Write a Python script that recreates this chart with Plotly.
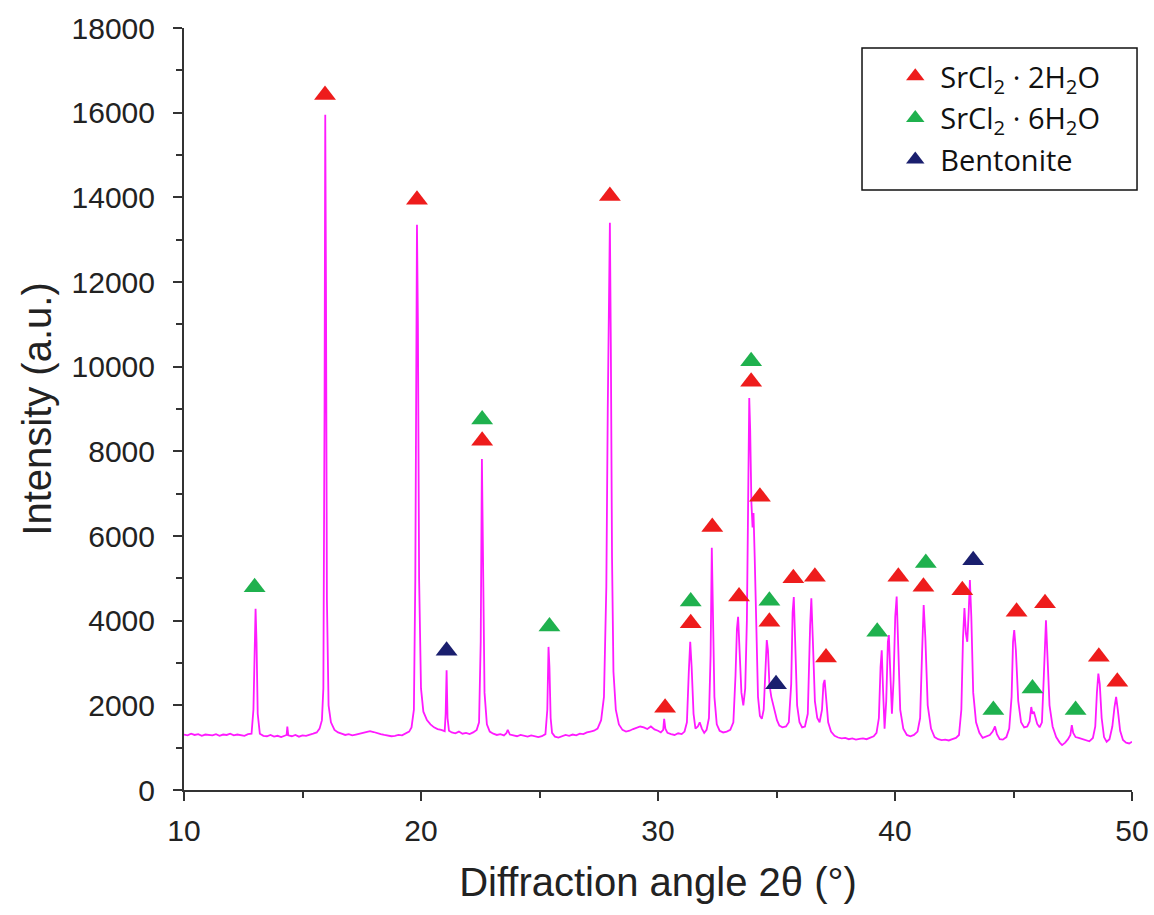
import plotly.graph_objects as go

# XRD pattern, in segments (2θ in degrees, intensity in a.u.)
angle_a = [10.00, 10.15, 10.30, 10.45, 10.60, 10.75, 10.90, 11.05, 11.20, 11.35,
           11.50, 11.65, 11.80, 11.95, 12.10, 12.25, 12.40, 12.55, 12.70, 12.85,
           12.93, 12.98, 13.02, 13.06, 13.11, 13.20, 13.35, 13.50, 13.65, 13.80,
           13.95, 14.10, 14.25, 14.33, 14.36, 14.40, 14.55, 14.70, 14.85, 15.00,
           15.15, 15.30, 15.45, 15.60, 15.72, 15.82, 15.88, 15.93, 15.96, 15.99,
           16.03, 16.10, 16.20, 16.35, 16.50]
intensity_a = [1310, 1290, 1330, 1300, 1320, 1280, 1310, 1300, 1290, 1320,
               1280, 1310, 1300, 1330, 1290, 1310, 1300, 1280, 1320, 1330,
               1900, 3600, 4280, 3500, 1800, 1330, 1280, 1270, 1300, 1260,
               1280, 1250, 1290, 1300, 1500, 1290, 1270, 1300, 1260, 1290,
               1280, 1300, 1330, 1360, 1450, 1650, 2400, 9000, 15950, 12000,
               4500, 2000, 1600, 1420, 1360]

angle_b = [16.65, 16.80, 16.95, 17.10, 17.25, 17.40, 17.55, 17.70, 17.85, 18.00,
           18.15, 18.30, 18.45, 18.60, 18.75, 18.90, 19.05, 19.20, 19.35, 19.50,
           19.60, 19.70, 19.76, 19.80, 19.83, 19.87, 19.92, 20.00, 20.10, 20.25,
           20.40, 20.55, 20.70, 20.85, 21.00, 21.04, 21.08, 21.12, 21.18, 21.30,
           21.45, 21.60, 21.75, 21.90, 22.05, 22.20, 22.35, 22.45, 22.52, 22.57,
           22.62, 22.68, 22.78, 22.90]
intensity_b = [1330, 1300, 1320, 1290, 1310, 1330, 1360, 1380, 1390, 1370,
               1340, 1320, 1300, 1290, 1270, 1280, 1300, 1290, 1330, 1380,
               1480, 1900, 5000, 10500, 13350, 11000, 5000, 2400, 1850, 1650,
               1550, 1480, 1440, 1420, 1390, 1800, 2830, 1700, 1400, 1360,
               1340, 1380, 1330, 1350, 1320, 1360, 1420, 1600, 3500, 7820,
               5200, 2300, 1550, 1380]

angle_c = [23.05, 23.20, 23.35, 23.50, 23.60, 23.66, 23.75, 23.90, 24.05, 24.20,
           24.35, 24.50, 24.65, 24.80, 24.95, 25.10, 25.25, 25.33, 25.38, 25.42,
           25.47, 25.53, 25.65, 25.80, 25.95, 26.10, 26.25, 26.40, 26.55, 26.70,
           26.85, 27.00, 27.15, 27.30, 27.45, 27.60, 27.72, 27.82, 27.88, 27.93,
           27.97, 28.01, 28.06, 28.12, 28.22, 28.35, 28.50, 28.65, 28.80, 28.95,
           29.10, 29.25, 29.40, 29.55, 29.70, 29.85]
intensity_c = [1330, 1300, 1320, 1290, 1340, 1420, 1310, 1290, 1270, 1300,
               1280, 1260, 1290, 1270, 1250, 1270, 1320, 1900, 3380, 2900,
               1700, 1350, 1260, 1240, 1270, 1300, 1280, 1310, 1290, 1330,
               1320, 1360, 1380, 1400, 1450, 1650, 2200, 4800, 9000, 12000,
               13400, 10500, 5500, 2800, 1900, 1550, 1420, 1380, 1400, 1440,
               1470, 1500, 1480, 1440, 1500, 1430]

angle_d = [30.00, 30.12, 30.22, 30.26, 30.31, 30.40, 30.55, 30.70, 30.85, 31.00,
           31.12, 31.22, 31.30, 31.36, 31.42, 31.50, 31.58, 31.68, 31.76, 31.85,
           31.95, 32.05, 32.15, 32.22, 32.27, 32.32, 32.38, 32.48, 32.60, 32.75,
           32.90, 33.05, 33.18, 33.27, 33.33, 33.38, 33.44, 33.52, 33.60, 33.68,
           33.75, 33.80, 33.85, 33.89, 33.94, 33.99, 34.03, 34.08, 34.15, 34.22]
intensity_d = [1400, 1360, 1420, 1680, 1450, 1350, 1320, 1300, 1340, 1320,
               1380, 1600, 2800, 3500, 2900, 1800, 1450, 1500, 1600, 1450,
               1350, 1420, 1700, 3200, 5720, 4300, 2200, 1550, 1400, 1360,
               1380, 1420, 1600, 2700, 3800, 4090, 3300, 2300, 2000, 2400,
               4000, 6500, 9260, 8500, 6800, 6200, 6540, 5500, 3500, 2200]

angle_e = [34.30, 34.38, 34.46, 34.53, 34.59, 34.64, 34.70, 34.78, 34.86, 34.94,
           35.02, 35.12, 35.25, 35.40, 35.52, 35.62, 35.68, 35.73, 35.79, 35.87,
           35.97, 36.08, 36.20, 36.32, 36.42, 36.47, 36.53, 36.62, 36.72, 36.82,
           36.92, 36.98, 37.03, 37.09, 37.18, 37.30, 37.45, 37.60, 37.75, 37.90,
           38.05, 38.20, 38.35, 38.50, 38.65, 38.80, 38.95, 39.10, 39.22]
intensity_e = [1750, 1680, 1900, 2900, 3540, 3300, 2500, 2200, 2000, 1850,
               1650, 1520, 1480, 1500, 1600, 2500, 4200, 4560, 3600, 2000,
               1600, 1480, 1500, 1800, 3900, 4530, 3600, 2100, 1700, 1600,
               1900, 2500, 2600, 2100, 1600, 1380, 1280, 1240, 1220, 1230,
               1200, 1220, 1190, 1210, 1220, 1200, 1240, 1270, 1350]

angle_f = [39.32, 39.39, 39.44, 39.50, 39.56, 39.63, 39.70, 39.74, 39.80, 39.87,
           39.94, 40.01, 40.07, 40.13, 40.22, 40.35, 40.50, 40.65, 40.80, 40.95,
           41.06, 41.14, 41.21, 41.28, 41.38, 41.52, 41.67, 41.82, 41.97, 42.12,
           42.27, 42.42, 42.57, 42.70, 42.80, 42.87, 42.93, 42.99, 43.05, 43.11,
           43.16, 43.22, 43.30, 43.42, 43.56, 43.70, 43.85, 44.00]
intensity_f = [1700, 2900, 3300, 2300, 1450, 2100, 3500, 3660, 2900, 1800,
               2600, 4100, 4570, 3600, 1900, 1450, 1300, 1270, 1300, 1380,
               1700, 3200, 4370, 3600, 2000, 1450, 1250, 1200, 1180, 1190,
               1170, 1200, 1230, 1300, 1900, 3600, 4300, 3700, 3500, 4200,
               4960, 4100, 2300, 1600, 1350, 1230, 1270, 1300]

angle_g = [44.12, 44.22, 44.30, 44.42, 44.55, 44.70, 44.82, 44.92, 44.98, 45.03,
           45.10, 45.20, 45.32, 45.45, 45.58, 45.68, 45.75, 45.80, 45.86, 45.92,
           46.00, 46.10, 46.20, 46.28, 46.33, 46.37, 46.43, 46.52, 46.65, 46.80,
           46.95, 47.05, 47.18, 47.30, 47.40, 47.46, 47.52, 47.62, 47.75, 47.90,
           48.05, 48.20, 48.35, 48.45, 48.52, 48.58, 48.64, 48.72, 48.82, 48.93,
           49.05, 49.17, 49.26, 49.33, 49.40, 49.50, 49.62, 49.75, 49.88, 50.00]
intensity_g = [1380, 1500, 1320, 1200, 1190, 1250, 1450, 2200, 3500, 3780,
               3300, 2100, 1600, 1480, 1500, 1620, 1960, 1800, 1850, 1700,
               1560, 1480, 1600, 2700, 3600, 4010, 3200, 2000, 1500, 1250,
               1120, 1060, 1120, 1200, 1300, 1530, 1350, 1250, 1230, 1200,
               1170, 1150, 1230, 1500, 2300, 2750, 2500, 1700, 1250, 1140,
               1200, 1500, 1950, 2200, 1900, 1400, 1180, 1120, 1100, 1140]

# Phase markers (2θ, marker height)
dihydrate_x = [15.95, 19.83, 22.58, 27.97, 30.30, 31.38, 32.29, 33.42, 33.93, 34.30,
               34.70, 35.71, 36.62, 37.09, 40.14, 41.20, 42.84, 45.13, 46.33, 48.60, 49.38]
dihydrate_y = [16420, 13940, 8250, 14030, 1940, 3940, 6210, 4570, 9645, 6930,
               3975, 5000, 5040, 3130, 5040, 4800, 4720, 4210, 4410, 3150, 2560]
hexahydrate_x = [12.98, 22.58, 25.42, 31.38, 33.93, 34.70, 39.25, 41.30, 44.15, 45.80, 47.62]
hexahydrate_y = [4790, 8750, 3860, 4450, 10130, 4470, 3740, 5360, 1890, 2400, 1890]
bentonite_x = [21.08, 34.98, 43.30]
bentonite_y = [3290, 2500, 5430]

series_names = ["SrCl<sub>2</sub> · 2H<sub>2</sub>O", "SrCl<sub>2</sub> · 6H<sub>2</sub>O", "Bentonite"]
x_ticks = [10, 20, 30, 40, 50]
y_ticks = [0, 2000, 4000, 6000, 8000, 10000, 12000, 14000, 16000, 18000]

angle = angle_a + angle_b + angle_c + angle_d + angle_e + angle_f + angle_g
intensity = (intensity_a + intensity_b + intensity_c + intensity_d
             + intensity_e + intensity_f + intensity_g)

fig = go.Figure()
fig.add_trace(go.Scatter(x=angle, y=intensity, mode="lines",
                         line=dict(color="#ff1aff", width=1.8),
                         showlegend=False))

marker_colors = ["#ee1c1c", "#1fb14e", "#1a1f6e"]
for name, xs, ys, col in zip(series_names,
                             [dihydrate_x, hexahydrate_x, bentonite_x],
                             [dihydrate_y, hexahydrate_y, bentonite_y],
                             marker_colors):
    fig.add_trace(go.Scatter(x=xs, y=ys, mode="markers", name=name,
                             legendgroup=name,
                             marker=dict(symbol="triangle-up", size=19, color=col,
                                         line=dict(width=0))))

axis_font = dict(family="Liberation Sans, Arial, sans-serif", size=30, color="#222")
title_font = dict(family="Liberation Sans, Arial, sans-serif", size=40, color="#222")

# legend frame (box drawn as a paper-referenced rectangle)
fig.add_shape(type="rect", xref="paper", yref="paper",
              x0=0.7152, x1=1.0053, y0=0.7874, y1=0.9738,
              line=dict(color="#111", width=1.5), fillcolor="white", layer="below")

fig.update_layout(
    width=1154, height=915,
    margin=dict(l=184, r=22, t=28, b=125),
    paper_bgcolor="white", plot_bgcolor="white",
    showlegend=True,
    legend=dict(x=0.745, y=0.970, xanchor="left", yanchor="top",
                bgcolor="rgba(0,0,0,0)", borderwidth=0,
                font=dict(family="Open Sans, sans-serif", size=29, color="#111"),
                tracegroupgap=1, itemwidth=40),
    xaxis=dict(range=[10, 50], tickvals=x_ticks, tickformat="d",
               ticks="outside", ticklen=9, tickwidth=2,
               tickcolor="#333", showline=True, linecolor="#333", linewidth=2,
               showgrid=False, zeroline=False, tickfont=axis_font,
               ticklabelstandoff=4, automargin=False,
               minor=dict(ticks="outside", dtick=5, ticklen=6, tickwidth=2, tickcolor="#333"),
               title=dict(text="Diffraction angle 2θ (°)", font=title_font, standoff=22)),
    yaxis=dict(range=[0, 18000], tickvals=y_ticks, tickformat="d",
               ticks="outside", ticklen=9, tickwidth=2,
               tickcolor="#333", showline=True, linecolor="#333", linewidth=2,
               showgrid=False, zeroline=False, tickfont=axis_font,
               ticklabelstandoff=12, automargin=False,
               minor=dict(ticks="outside", dtick=1000, ticklen=6, tickwidth=2, tickcolor="#333"),
               title=dict(text="Intensity (a.u.)", font=title_font, standoff=8)),
)

fig.write_html("out.html", config={"displayModeBar": False},
               post_script="document.body.style.margin='0';")
